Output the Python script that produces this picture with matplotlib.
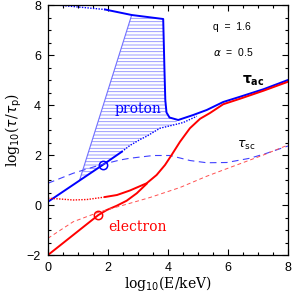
import matplotlib
matplotlib.use("Agg")
import matplotlib.pyplot as plt
from matplotlib.patches import Polygon
from matplotlib.ticker import MultipleLocator
import numpy as np

# ---- data (log10 E/keV, log10 tau/tau_p) ----
# proton
p_low_x = [0.0, 1.82, 2.46]
p_low_y = [0.13, 1.60, 2.13]
p_lowdot_x = [2.46, 2.73, 3.07, 3.29, 3.73, 4.18, 4.51, 4.96]
p_lowdot_y = [2.13, 2.38, 2.62, 2.75, 3.07, 3.20, 3.30, 3.55]
p_topdot_x = [0.30, 1.90]
p_topdot_y = [8.00, 7.82]
p_up_x = [1.90, 2.79, 3.84, 3.88, 3.91, 3.95, 4.05, 4.34, 4.84, 5.29, 5.84, 6.40, 7.18, 8.00]
p_up_y = [7.82, 7.60, 7.44, 5.50, 4.20, 3.70, 3.50, 3.40, 3.60, 3.80, 4.12, 4.33, 4.63, 5.00]
p_edge_x = [1.05, 2.79]
p_edge_y = [0.98, 7.60]
p_circle = (1.82, 1.60)
p_sc_x = [0.0, 0.84, 1.73, 2.40, 2.73, 3.51, 4.07, 4.73, 5.29, 5.96, 6.73, 7.29, 8.0]
p_sc_y = [0.87, 1.27, 1.60, 1.80, 1.87, 1.98, 1.98, 1.78, 1.69, 1.70, 1.87, 2.07, 2.36]

# electron
e_low_x = [0.0, 1.68, 1.96, 2.29, 2.62, 2.96, 3.29]
e_low_y = [-2.0, -0.40, -0.20, -0.03, 0.17, 0.47, 0.85]
e_dot_x = [0.0, 0.40, 0.84, 1.30, 1.73, 1.90]
e_dot_y = [0.27, 0.24, 0.20, 0.22, 0.29, 0.32]
e_up_x = [1.90, 2.30, 2.73, 3.29, 3.62, 3.90, 4.12, 4.40, 4.73, 5.07, 5.40, 5.84, 6.40, 7.18, 8.0]
e_up_y = [0.32, 0.40, 0.58, 0.87, 1.20, 1.60, 2.00, 2.53, 3.07, 3.45, 3.68, 4.03, 4.25, 4.57, 4.93]
e_circle = (1.68, -0.40)
e_sc_x = [0.0, 0.84, 1.73, 2.62, 3.40, 4.40, 5.29, 5.73, 6.40, 7.18, 8.0]
e_sc_y = [-1.33, -0.67, -0.27, 0.03, 0.30, 0.70, 1.15, 1.35, 1.65, 2.00, 2.40]

xticks = [0, 2, 4, 6, 8]
yticks = [-2, 0, 2, 4, 6, 8]

BLUE = '#0000ff'
RED = '#ff0000'

plt.rcParams['hatch.linewidth'] = 0.6
fig = plt.figure(figsize=(2.93, 2.94), dpi=100)
ax = fig.add_axes([48/293, 1-255/294, 240/293, 250/294])

# hatched region (proton): left edge, top/right solid curve, bottom dotted + solid
poly_x = (p_edge_x + p_up_x[2:8] + p_lowdot_x[::-1][2:] + [p_edge_x[0]])
poly_y = (p_edge_y + p_up_y[2:8] + p_lowdot_y[::-1][2:] + [p_edge_y[0]])
ax.add_patch(Polygon(np.column_stack([poly_x, poly_y]), closed=True,
                     facecolor='none', edgecolor='#8c8cff', hatch='-----', lw=0))
ax.plot(p_edge_x, p_edge_y, color='#7070ff', lw=0.8)

# proton curves
ax.plot(p_low_x, p_low_y, color=BLUE, lw=1.4)
ax.plot(p_lowdot_x, p_lowdot_y, color=BLUE, lw=1.0, ls=(0, (1, 1)))
ax.plot(p_topdot_x, p_topdot_y, color=BLUE, lw=1.0, ls=(0, (1, 1)))
ax.plot(p_up_x, p_up_y, color=BLUE, lw=1.4)
ax.plot(p_sc_x, p_sc_y, color='#4040ff', lw=0.8, ls=(0, (6, 4)))
ax.plot(*p_circle, 'o', mfc='none', mec=BLUE, ms=6, mew=1.1)

# electron curves
ax.plot(e_low_x, e_low_y, color=RED, lw=1.4)
ax.plot(e_dot_x, e_dot_y, color=RED, lw=1.0, ls=(0, (1, 1)))
ax.plot(e_up_x, e_up_y, color=RED, lw=1.4)
ax.plot(e_sc_x, e_sc_y, color='#ff5050', lw=0.7, ls=(0, (4, 3)))
ax.plot(*e_circle, 'o', mfc='none', mec=RED, ms=6, mew=1.1)

# texts
ax.text(5.5, 7.13, 'q  =  1.6', fontsize=7.5, family='Liberation Sans', va='center')
ax.text(5.5, 6.13, r'$\alpha$  =  0.5', fontsize=7.5, family='Liberation Sans', va='center')
ax.text(6.45, 4.95, r'$\mathbf{\tau}_{\mathbf{ac}}$', fontsize=10, va='center')
ax.text(6.3, 2.4, r'$\tau_{\rm sc}$', fontsize=9, va='center')
ax.text(2.23, 3.85, 'proton', fontsize=10, family='DejaVu Serif', color=BLUE, va='center')
ax.text(2.0, -0.88, 'electron', fontsize=10, family='DejaVu Serif', color=RED, va='center')

ax.set_xlim(0, 8)
ax.set_ylim(-2, 8)
ax.set_xticks(xticks)
ax.set_yticks(yticks)
ax.xaxis.set_minor_locator(MultipleLocator(0.5))
ax.yaxis.set_minor_locator(MultipleLocator(0.5))
ax.tick_params(which='both', direction='in', top=True, right=True, width=0.8)
ax.tick_params(which='major', length=4.5, pad=5)
ax.tick_params(which='minor', length=2.5)
for lab in ax.get_xticklabels() + ax.get_yticklabels():
    lab.set_fontfamily('Liberation Sans')
    lab.set_fontsize(9)
for s in ax.spines.values():
    s.set_linewidth(0.9)

plt.rcParams['mathtext.fontset'] = 'dejavuserif'
ax.set_xlabel(r'log$_{10}$(E/keV)', fontsize=10, family='DejaVu Serif', labelpad=0)
ax.set_ylabel(r'log$_{10}$($\tau$/$\tau_{\rm p}$)', fontsize=10, family='DejaVu Serif', labelpad=2)

fig.savefig('out.png', dpi=100)
